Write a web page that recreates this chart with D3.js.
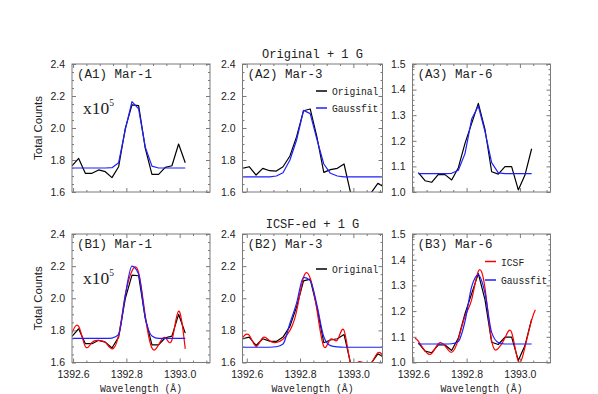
<!DOCTYPE html>
<html><head><meta charset="utf-8">
<script src="https://cdn.jsdelivr.net/npm/d3@7"></script>
<style>body{margin:0;background:#fff}svg{display:block}</style>
</head><body><svg id="c" width="598" height="394"></svg>
<script>
// ---------- DATA ----------
const lamMar1 = [1392.596,1392.621,1392.646,1392.671,1392.696,1392.721,1392.746,1392.771,1392.796,1392.821,1392.846,1392.871,1392.896,1392.921,1392.946,1392.971,1392.996,1393.021];
const lamMar3 = [1392.584,1392.609,1392.635,1392.660,1392.686,1392.711,1392.736,1392.762,1392.787,1392.813,1392.838,1392.863,1392.889,1392.914,1392.940,1392.965,1392.990,1393.016,1393.041,1393.067,1393.092,1393.117];
const lamMar6 = [1392.619,1392.644,1392.669,1392.694,1392.719,1392.744,1392.769,1392.794,1392.819,1392.844,1392.869,1392.894,1392.919,1392.944,1392.969,1392.994,1393.019,1393.044];
const lamMar6Icsf = [1392.606,1392.619,1392.644,1392.669,1392.694,1392.719,1392.744,1392.769,1392.794,1392.819,1392.844,1392.869,1392.894,1392.919,1392.944,1392.969,1392.994,1393.019,1393.044,1393.058];

// Original (x10^5 counts)
const origMar1 = [1.763,1.810,1.717,1.717,1.738,1.727,1.690,1.758,1.998,2.144,2.140,1.873,1.710,1.710,1.754,1.764,1.900,1.783];
const origMar3 = [1.748,1.758,1.706,1.748,1.733,1.731,1.758,1.825,1.946,2.108,2.119,1.946,1.723,1.740,1.748,1.775,1.592,1.590,1.588,1.596,1.654,1.630];
const origMar6 = [1.076,1.044,1.038,1.069,1.068,1.047,1.095,1.190,1.268,1.346,1.245,1.079,1.070,1.099,1.099,1.008,1.066,1.169];

// Gaussfit of original
const gaussOrigMar1 = [1.750,1.750,1.750,1.750,1.750,1.750,1.752,1.783,1.990,2.165,2.120,1.880,1.762,1.750,1.750,1.750,1.750,1.750];
const gaussOrigMar3 = [1.695,1.695,1.695,1.695,1.695,1.700,1.720,1.800,1.925,2.110,2.090,1.930,1.775,1.717,1.700,1.695,1.695,1.695,1.695,1.695,1.695,1.695];
const gaussOrigMar6 = [1.072,1.072,1.072,1.072,1.072,1.073,1.085,1.150,1.285,1.336,1.236,1.115,1.075,1.072,1.072,1.072,1.072,1.072];

// ICSF-ed profiles
const icsfMar1 = [1.785,1.825,1.700,1.725,1.737,1.725,1.685,1.770,2.020,2.170,2.160,1.890,1.690,1.710,1.755,1.740,1.920,1.685];
const icsfMar3 = [1.755,1.770,1.700,1.755,1.735,1.725,1.745,1.800,1.920,2.130,2.125,1.930,1.700,1.745,1.740,1.800,1.590,1.600,1.595,1.595,1.660,1.630];
const icsfMar6 = [1.095,1.083,1.045,1.035,1.073,1.065,1.040,1.090,1.180,1.245,1.355,1.290,1.085,1.055,1.095,1.117,1.005,1.060,1.165,1.205];

// Gaussfit of ICSF-ed
const gaussIcsfMar1 = [1.750,1.750,1.750,1.750,1.750,1.750,1.752,1.775,2.020,2.200,2.150,1.880,1.765,1.750,1.750,1.750,1.750,1.750];
const gaussIcsfMar3 = [1.695,1.695,1.695,1.695,1.695,1.698,1.715,1.845,1.970,2.130,2.110,1.960,1.760,1.705,1.697,1.695,1.695,1.695,1.695,1.695,1.695,1.695];
const gaussIcsfMar6 = [1.072,1.072,1.072,1.072,1.072,1.073,1.082,1.160,1.295,1.341,1.270,1.117,1.078,1.072,1.072,1.072,1.072,1.072];

const xMajor = [1392.6,1392.8,1393.0];
const xMinor = [1392.65,1392.7,1392.75,1392.85,1392.9,1392.95,1393.05,1393.1];
const yMajorHi = [1.6,1.8,2.0,2.2,2.4];
const yMinorHi = [1.65,1.7,1.75,1.85,1.9,1.95,2.05,2.1,2.15,2.25,2.3,2.35];
const yMajorLo = [1.0,1.1,1.2,1.3,1.4,1.5];
const yMinorLo = [1.02,1.04,1.06,1.08,1.12,1.14,1.16,1.18,1.22,1.24,1.26,1.28,1.32,1.34,1.36,1.38,1.42,1.44,1.46,1.48];

const panelLabels = ["(A1) Mar-1","(A2) Mar-3","(A3) Mar-6","(B1) Mar-1","(B2) Mar-3","(B3) Mar-6"];
const rowTitles = ["Original + 1 G","ICSF-ed + 1 G"];

// ---------- LAYOUT ----------
const PXPERA = 266.5;
const cols = [
  {x0:72, x1:210, lam0:1392.596, yDom:[1.6,2.4], yMaj:yMajorHi, yMin:yMinorHi},
  {x0:242.5, x1:382.5, lam0:1392.584, yDom:[1.6,2.4], yMaj:yMajorHi, yMin:yMinorHi},
  {x0:412.5, x1:550.5, lam0:1392.597, yDom:[1.0,1.5], yMaj:yMajorLo, yMin:yMinorLo}
];
const rows = [{y0:64, y1:192}, {y0:234, y1:362.5}];

const BLUE = "#1f1fff", RED = "#ff0000", BLACK = "#000";
const series = [
  [[{lam:lamMar1, v:origMar1, c:BLACK},{lam:lamMar1, v:gaussOrigMar1, c:BLUE}],
   [{lam:lamMar3, v:origMar3, c:BLACK},{lam:lamMar3, v:gaussOrigMar3, c:BLUE}],
   [{lam:lamMar6, v:origMar6, c:BLACK},{lam:lamMar6, v:gaussOrigMar6, c:BLUE}]],
  [[{lam:lamMar1, v:origMar1, c:BLACK},{lam:lamMar1, v:icsfMar1, c:RED, curve:d3.curveNatural},{lam:lamMar1, v:gaussIcsfMar1, c:BLUE, curve:d3.curveMonotoneX}],
   [{lam:lamMar3, v:origMar3, c:BLACK},{lam:lamMar3, v:icsfMar3, c:RED, curve:d3.curveNatural},{lam:lamMar3, v:gaussIcsfMar3, c:BLUE, curve:d3.curveMonotoneX}],
   [{lam:lamMar6, v:origMar6, c:BLACK},{lam:lamMar6Icsf, v:icsfMar6, c:RED, curve:d3.curveNatural},{lam:lamMar6, v:gaussIcsfMar6, c:BLUE, curve:d3.curveMonotoneX}]]
];

const svg = d3.select("#c");
const FRAME = "#7a7a7a";
const TXT = "#222";
const MONO = "'Liberation Mono','DejaVu Sans Mono',monospace";
const SANS = "'Liberation Sans',Arial,sans-serif";
const fmt1 = d3.format(".1f");

rows.forEach((r, ri) => {
  cols.forEach((c, ci) => {
    const x = d3.scaleLinear().domain([c.lam0, c.lam0 + (c.x1 - c.x0) / PXPERA]).range([c.x0, c.x1]);
    const y = d3.scaleLinear().domain(c.yDom).range([r.y1, r.y0]);
    const g = svg.append("g");
    const cid = `clip${ri}${ci}`;
    svg.append("clipPath").attr("id", cid).append("rect")
      .attr("x", c.x0).attr("y", r.y0).attr("width", c.x1 - c.x0).attr("height", r.y1 - r.y0);

    const lg = g.append("g").attr("clip-path", `url(#${cid})`);
    series[ri][ci].forEach(s => {
      const pts = s.lam.map((l, i) => [l, s.v[i]]);
      const line = d3.line().x(d => x(d[0])).y(d => y(d[1])).curve(s.curve || d3.curveLinear);
      lg.append("path").attr("d", line(pts)).attr("fill", "none")
        .attr("stroke", s.c).attr("stroke-width", 1.2).attr("stroke-linejoin", "round");
    });

    const isBottom = ri === 1;
    const styleAxis = sel => { sel.select(".domain").remove(); sel.selectAll("line").attr("stroke", FRAME); };
    const bx = g.append("g").attr("transform", `translate(0,${r.y1})`)
      .call(d3.axisBottom(x).tickValues(xMajor).tickSize(-4).tickPadding(8).tickFormat(isBottom ? fmt1 : () => ""));
    styleAxis(bx);
    bx.selectAll("text").attr("font-family", SANS).attr("font-size", 10.5).attr("fill", TXT);
    styleAxis(g.append("g").attr("transform", `translate(0,${r.y1})`)
      .call(d3.axisBottom(x).tickValues(xMinor).tickSize(-2).tickFormat(() => "")));
    styleAxis(g.append("g").attr("transform", `translate(0,${r.y0})`)
      .call(d3.axisTop(x).tickValues(xMajor).tickSize(-4).tickFormat(() => "")));
    styleAxis(g.append("g").attr("transform", `translate(0,${r.y0})`)
      .call(d3.axisTop(x).tickValues(xMinor).tickSize(-2).tickFormat(() => "")));

    const ly = g.append("g").attr("transform", `translate(${c.x0},0)`)
      .call(d3.axisLeft(y).tickValues(c.yMaj).tickSize(-4).tickPadding(7).tickFormat(fmt1));
    styleAxis(ly);
    ly.selectAll("text").attr("font-family", SANS).attr("font-size", 10.5).attr("fill", TXT);
    styleAxis(g.append("g").attr("transform", `translate(${c.x0},0)`)
      .call(d3.axisLeft(y).tickValues(c.yMin).tickSize(-2).tickFormat(() => "")));
    styleAxis(g.append("g").attr("transform", `translate(${c.x1},0)`)
      .call(d3.axisRight(y).tickValues(c.yMaj).tickSize(-4).tickFormat(() => "")));
    styleAxis(g.append("g").attr("transform", `translate(${c.x1},0)`)
      .call(d3.axisRight(y).tickValues(c.yMin).tickSize(-2).tickFormat(() => "")));

    g.append("rect").attr("x", c.x0).attr("y", r.y0).attr("width", c.x1 - c.x0).attr("height", r.y1 - r.y0)
      .attr("fill", "none").attr("stroke", FRAME).attr("stroke-width", 1);

    g.append("text").attr("x", c.x0 + 5).attr("y", r.y0 + 14)
      .attr("font-family", MONO).attr("font-size", 12.5).attr("fill", TXT)
      .text(panelLabels[ri * 3 + ci]);

    if (isBottom) {
      g.append("text").attr("x", (c.x0 + c.x1) / 2).attr("y", r.y1 + 29)
        .attr("text-anchor", "middle").attr("font-family", MONO).attr("font-size", 10.5)
        .attr("textLength", 82).attr("lengthAdjust", "spacingAndGlyphs")
        .attr("fill", TXT).text("Wavelength (Å)");
    }
    if (ci === 0) {
      g.append("text").attr("transform", `translate(${c.x0 - 30},${(r.y0 + r.y1) / 2}) rotate(-90)`)
        .attr("text-anchor", "middle").attr("font-family", SANS)
        .attr("font-size", 11.5).attr("fill", TXT).text("Total Counts");
      const t = g.append("text").attr("x", c.x0 + 11).attr("y", r.y0 + 50)
        .attr("font-family", "'Liberation Serif','Times New Roman',serif").attr("font-size", 17.5).attr("fill", TXT);
      t.append("tspan").text("x10");
      t.append("tspan").attr("font-size", 9.5).attr("dy", -8).text("5");
    }
    if (ci === 1) {
      g.append("text").attr("x", (c.x0 + c.x1) / 2).attr("y", r.y0 - 6)
        .attr("text-anchor", "middle").attr("font-family", MONO).attr("font-size", 12).attr("fill", TXT)
        .text(rowTitles[ri]);
    }
  });
});

function legend(x0, yc, color, label) {
  svg.append("line").attr("x1", x0).attr("x2", x0 + 11).attr("y1", yc).attr("y2", yc)
    .attr("stroke", color).attr("stroke-width", 1.5);
  svg.append("text").attr("x", x0 + 16).attr("y", yc + 4).attr("font-family", MONO)
    .attr("font-size", 11).attr("textLength", label.length * 5.8).attr("lengthAdjust", "spacingAndGlyphs")
    .attr("fill", TXT).text(label);
}
legend(316, 91, BLACK, "Original");
legend(316, 108, BLUE, "Gaussfit");
legend(316, 269, BLACK, "Original");
legend(485, 261.5, RED, "ICSF");
legend(485, 280, BLUE, "Gaussfit");
</script></body></html>
